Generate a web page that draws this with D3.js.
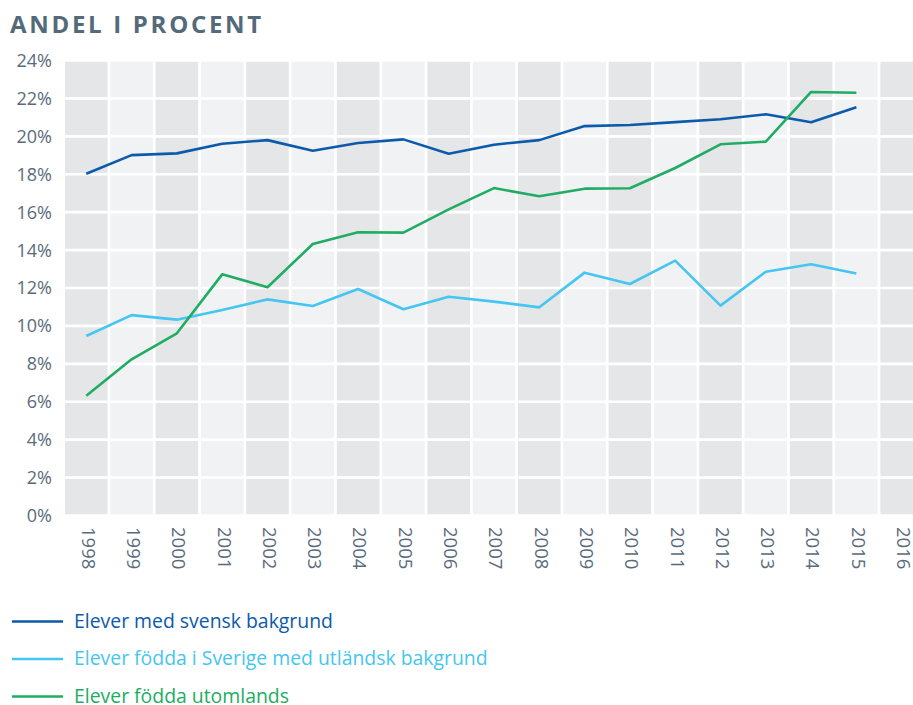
<!DOCTYPE html>
<html>
<head>
<meta charset="utf-8">
<script src="https://cdn.jsdelivr.net/npm/d3@7"></script>
<style>
  body { margin: 0; background: #fff; }
  text { font-family: "Open Sans", sans-serif; }
</style>
</head>
<body>
<script>
let width = 913,
    height = 705;

// data
let years = [1998, 1999, 2000, 2001, 2002, 2003, 2004, 2005, 2006, 2007, 2008, 2009, 2010, 2011, 2012, 2013, 2014, 2015, 2016];
let svensk = [18.03, 19.01, 19.1, 19.61, 19.8, 19.24, 19.65, 19.84, 19.08, 19.56, 19.8, 20.54, 20.6, 20.75, 20.9, 21.16, 20.74, 21.53];
let foddaSverige = [9.47, 10.57, 10.33, 10.84, 11.4, 11.05, 11.95, 10.88, 11.54, 11.28, 10.98, 12.81, 12.21, 13.44, 11.07, 12.86, 13.25, 12.77];
let utomlands = [6.32, 8.24, 9.61, 12.72, 12.04, 14.32, 14.94, 14.92, 16.15, 17.27, 16.84, 17.24, 17.26, 18.33, 19.58, 19.72, 22.34, 22.3];
let yTicks = [0, 2, 4, 6, 8, 10, 12, 14, 16, 18, 20, 22, 24];

let series = [
    {name: "Elever med svensk bakgrund", color: "#0b5aab", values: svensk},
    {name: "Elever födda i Sverige med utländsk bakgrund", color: "#45c6f1", values: foddaSverige},
    {name: "Elever födda utomlands", color: "#20ad63", values: utomlands}
];

let gap = 2.7;

let x = d3.scaleBand()
    .domain(years)
    .range([65, 65 + 19 * 45.3]);

let y = d3.scaleLinear()
    .domain([0, 24])
    .range([515.5, 60.5]);

let svg = d3.select("body").append("svg")
    .attr("width", width)
    .attr("height", height);

// title
svg.append("text")
    .attr("x", 10)
    .attr("y", 33)
    .attr("font-size", 24)
    .attr("font-weight", 700)
    .attr("letter-spacing", 2.7)
    .attr("fill", "#546a7b")
    .text("ANDEL I PROCENT");

// clip the plot at the right page edge
svg.append("clipPath").attr("id", "plotclip")
    .append("rect").attr("x", 0).attr("y", 0).attr("width", width).attr("height", height);

let plot = svg.append("g").attr("clip-path", "url(#plotclip)");

// alternating column backgrounds
plot.selectAll(".col")
    .data(years)
    .enter().append("rect")
    .attr("class", "col")
    .attr("x", d => x(d))
    .attr("y", y(24))
    .attr("width", x.bandwidth() - gap)
    .attr("height", y(0) - y(24))
    .attr("fill", (d, i) => i % 2 === 0 ? "#e5e6e8" : "#f1f2f4");

// white horizontal grid lines
plot.selectAll(".grid")
    .data(yTicks)
    .enter().append("line")
    .attr("class", "grid")
    .attr("x1", 65)
    .attr("x2", width)
    .attr("y1", d => y(d))
    .attr("y2", d => y(d))
    .attr("stroke", "#fff")
    .attr("stroke-width", gap);

// y tick labels
svg.selectAll(".ylab")
    .data(yTicks)
    .enter().append("text")
    .attr("class", "ylab")
    .attr("x", 52)
    .attr("y", d => y(d))
    .attr("dy", "0.36em")
    .attr("text-anchor", "end")
    .attr("font-size", 18)
    .attr("fill", "#5a6b7b")
    .text(d => d + "%");

// x tick labels, rotated
svg.selectAll(".xlab")
    .data(years)
    .enter().append("text")
    .attr("class", "xlab")
    .attr("transform", d => "translate(" + (x(d) + (x.bandwidth() - gap) / 2 + 2) + ",527) rotate(90)")
    .attr("dy", "0.36em")
    .attr("font-size", 18.5)
    .attr("fill", "#5a6b7b")
    .text(d => d);

// lines
let line = d3.line()
    .x((d, i) => x(years[i]) + (x.bandwidth() - gap) / 2)
    .y(d => y(d));

plot.selectAll(".series")
    .data(series)
    .enter().append("path")
    .attr("class", "series")
    .attr("d", d => line(d.values))
    .attr("fill", "none")
    .attr("stroke", d => d.color)
    .attr("stroke-width", 2.6)
    .attr("stroke-linejoin", "round");

// legend
let legend = svg.selectAll(".legend")
    .data(series)
    .enter().append("g")
    .attr("class", "legend")
    .attr("transform", (d, i) => "translate(0," + (621.5 + i * 37.5) + ")");

legend.append("line")
    .attr("x1", 12)
    .attr("x2", 63)
    .attr("stroke", d => d.color)
    .attr("stroke-width", 2.6);

legend.append("text")
    .attr("x", 74)
    .attr("dy", "0.33em")
    .attr("font-size", 19.4)
    .attr("fill", d => d.color)
    .text(d => d.name);
</script>
</body>
</html>
